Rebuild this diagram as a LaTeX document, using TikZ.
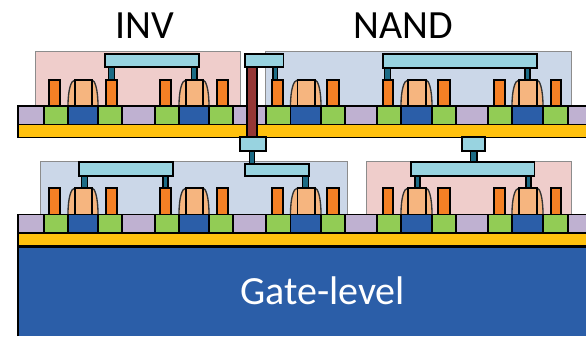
\documentclass[tikz,border=0pt]{standalone}
\usepackage{fontspec}
\setmainfont{Carlito}

\definecolor{silicide}{HTML}{BFB1D1}
\definecolor{diffusion}{HTML}{92CC55}
\definecolor{channel}{HTML}{2B5EA8}
\definecolor{oxide}{HTML}{FFC10E}
\definecolor{contact}{HTML}{F58025}
\definecolor{spacer}{HTML}{F6B57F}
\definecolor{metal}{HTML}{98D3E0}
\definecolor{viafill}{HTML}{1C6B85}
\definecolor{miv}{HTML}{953735}
\definecolor{cellred}{HTML}{EFCDCB}
\definecolor{cellblue}{HTML}{CBD7E8}

% gate stacks, x left, x right, y top
\newcommand{\gatestack}[3]{
    \filldraw[fill=spacer,draw=black!80,line width=1pt] (#1,#3+26) .. controls (#1,#3+10) and (#1+3,#3) .. (#1+7,#3) -- (#2-6,#3) .. controls (#2-3,#3) and (#2,#3+10) .. (#2,#3+26);
    \draw[outline] (#1+7,#3+26) -- (#1+7,#3) -- (#2-6,#3) -- (#2-6,#3+26);
}

\begin{document}
\begin{tikzpicture}[x=0.75pt,y=-0.75pt,
    outline/.style={draw=black,line width=1.45pt},
    cellbox/.style={draw=black!45,line width=0.7pt},
    labeltext/.style={font=\fontsize{30}{36}\selectfont}]
    \useasboundingbox (0,0) rectangle (586,336);

    % cell backgrounds
    \filldraw[fill=cellred,cellbox] (35.5,51.5) rectangle (240,106);
    \filldraw[fill=cellblue,cellbox] (265,51.5) rectangle (571,106);
    \filldraw[fill=cellblue,cellbox] (40,161) rectangle (347,214);
    \filldraw[fill=cellred,cellbox] (366.5,161) rectangle (571,214);

    % base
    \fill[channel] (18,247) rectangle (586,336);
    \draw[outline] (18,336) -- (18,247) -- (586,247);

    % both tiers, y is the top of the contacts
    \foreach \ytop/\ycell in {80/106,188/214.5}{
        \foreach \xa/\xb in {49/60,106/117,160/171,217/228,272/283,327/339,383/393,438/450,494/505,551/561}
            \filldraw[fill=contact,outline] (\xa,\ytop) rectangle (\xb,\ycell);
        \foreach \xa/\xb in {68/98,179/209,290.5/321,401/432,512/543}
            \gatestack{\xa}{\xb}{\ytop}
        \foreach \xa/\xb in {18/44,122/154.5,233/266,345/377,456/488,568/587}
            \filldraw[fill=silicide,outline] (\xa,\ycell) rectangle (\xb,\ycell+18.5);
        \foreach \xa/\xb in {44/68,98/122,155/179,209/233,266/290.5,321/345,377/401,432/456,488/512,543/568}
            \filldraw[fill=diffusion,outline] (\xa,\ycell) rectangle (\xb,\ycell+18.5);
        \foreach \xa/\xb in {68/98,179/209,290.5/321,401/432,512/543}
            \filldraw[fill=channel,outline] (\xa,\ycell) rectangle (\xb,\ycell+18.5);
        \filldraw[fill=oxide,outline] (18,\ycell+18.5) rectangle (587,\ycell+31.5);
    }

    % vias
    \foreach \xa/\xb/\ya/\yb in {108.7/114.7/66/80,191.7/197/66/80,273/277.5/66/80,384.7/390.5/66/80,525/530/66/80,
        81.5/87.5/175/188,163/168/175/188,302.7/308.7/175/188,415/420/175/188,526/531/175/188,
        249.5/254.5/150/164,470.7/477/150/163}
        \filldraw[fill=viafill,draw=black,line width=0.9pt] (\xa,\ya) rectangle (\xb,\yb);

    % metal
    \foreach \xa/\xb/\ya/\yb in {105/199/54/67,245/283.5/54/67,382.7/536.7/54/68,
        240/266/137/151,461.7/485/137/151,
        79/173/162/176,245/309/164/176,411/534.5/162/176}
        \filldraw[fill=metal,outline] (\xa,\ya) rectangle (\xb,\yb);

    % through via
    \filldraw[fill=miv,outline] (246.7,67) rectangle (257.3,137);

    \node[labeltext] (invlabel) at (144.5,26) {INV};
    \node[labeltext] (nandlabel) at (403,26) {NAND};
    \node[labeltext,text=white] (gatelabel) at (322.5,291) {Gate-level};
\end{tikzpicture}
\end{document}
